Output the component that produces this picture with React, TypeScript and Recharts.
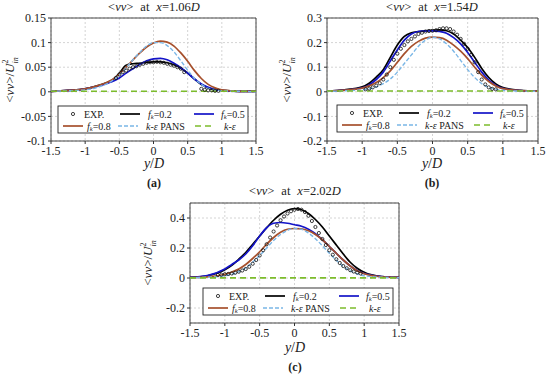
import React from "react";
import { LineChart, Line, XAxis, YAxis, CartesianGrid, ReferenceArea } from "recharts";

const X_TICKS = [-1.5, -1, -0.5, 0, 0.5, 1, 1.5];

// y/D positions of the simulation curves
const MODEL_Y = [-1.5, -1.25, -1, -0.9, -0.8, -0.7, -0.6, -0.5, -0.4, -0.3, -0.2, -0.1, 0, 0.1, 0.2, 0.3, 0.4, 0.5, 0.6, 0.7, 0.8, 0.9, 1, 1.25, 1.5];
const KE_Y = [-1.5, -1, -0.5, 0, 0.5, 1, 1.5];

// (a) x = 1.06D
const A_F02 = [0.001, 0.003, 0.006, 0.009, 0.013, 0.018, 0.024, 0.038, 0.054, 0.057, 0.058, 0.06, 0.061, 0.061, 0.059, 0.055, 0.048, 0.038, 0.026, 0.015, 0.008, 0.004, 0.003, 0.001, 0.001];
const A_F05 = [0.001, 0.003, 0.006, 0.009, 0.012, 0.016, 0.021, 0.028, 0.038, 0.047, 0.056, 0.063, 0.067, 0.068, 0.065, 0.058, 0.049, 0.038, 0.026, 0.016, 0.009, 0.005, 0.003, 0.001, 0.001];
const A_F08 = [0.001, 0.003, 0.006, 0.009, 0.013, 0.018, 0.025, 0.036, 0.05, 0.065, 0.079, 0.091, 0.099, 0.103, 0.101, 0.093, 0.079, 0.062, 0.043, 0.027, 0.015, 0.008, 0.004, 0.001, 0.001];
const A_PANS = [0.001, 0.002, 0.004, 0.006, 0.01, 0.015, 0.023, 0.034, 0.049, 0.065, 0.08, 0.093, 0.1, 0.1, 0.094, 0.081, 0.063, 0.044, 0.027, 0.015, 0.007, 0.004, 0.002, 0.001, 0];
const A_KE = [0.001, 0.001, 0.001, 0.001, 0.001, 0.001, 0.001];
const A_EXP_Y = [-0.55, -0.5, -0.45, -0.4, -0.35, -0.3, -0.25, -0.2, -0.15, -0.1, -0.05, 0, 0.05, 0.1, 0.15, 0.2, 0.25, 0.3, 0.35, 0.4, 0.45, 0.7, 0.75, 0.8, 0.85, 0.9, 0.95];
const A_EXP = [0.028, 0.035, 0.04, 0.043, 0.047, 0.05, 0.052, 0.055, 0.057, 0.059, 0.06, 0.06, 0.061, 0.06, 0.059, 0.057, 0.055, 0.053, 0.05, 0.047, 0.04, 0.006, 0.004, 0.003, 0.003, 0.002, 0.002];

// (b) x = 1.54D
const B_F02 = [0.003, 0.008, 0.02, 0.035, 0.06, 0.09, 0.14, 0.19, 0.225, 0.24, 0.245, 0.248, 0.25, 0.252, 0.248, 0.235, 0.21, 0.18, 0.14, 0.095, 0.058, 0.032, 0.017, 0.006, 0.003];
const B_F05 = [0.003, 0.007, 0.016, 0.028, 0.05, 0.08, 0.125, 0.17, 0.21, 0.235, 0.245, 0.248, 0.248, 0.245, 0.238, 0.22, 0.195, 0.16, 0.12, 0.08, 0.047, 0.026, 0.014, 0.005, 0.003];
const B_F08 = [0.003, 0.007, 0.015, 0.024, 0.038, 0.058, 0.085, 0.12, 0.155, 0.185, 0.205, 0.218, 0.222, 0.22, 0.21, 0.19, 0.165, 0.135, 0.1, 0.068, 0.042, 0.024, 0.013, 0.005, 0.003];
const B_PANS = [0.002, 0.004, 0.008, 0.012, 0.02, 0.033, 0.052, 0.08, 0.115, 0.15, 0.185, 0.21, 0.222, 0.215, 0.195, 0.165, 0.128, 0.09, 0.058, 0.033, 0.018, 0.01, 0.006, 0.003, 0.002];
const B_KE = [0.003, 0.003, 0.003, 0.003, 0.003, 0.003, 0.003];
const B_EXP_Y = [-0.95, -0.9, -0.85, -0.8, -0.75, -0.7, -0.65, -0.6, -0.55, -0.5, -0.45, -0.4, -0.35, -0.3, -0.25, -0.2, -0.15, -0.1, -0.05, 0, 0.05, 0.1, 0.15, 0.2, 0.25, 0.3, 0.35, 0.4, 0.45, 0.5, 0.55, 0.6, 0.65, 0.7, 0.75, 0.8, 0.85, 0.9];
const B_EXP = [0.01, 0.013, 0.018, 0.025, 0.035, 0.05, 0.07, 0.1, 0.13, 0.155, 0.175, 0.19, 0.205, 0.215, 0.225, 0.235, 0.24, 0.245, 0.247, 0.248, 0.25, 0.255, 0.258, 0.258, 0.255, 0.245, 0.232, 0.215, 0.195, 0.175, 0.15, 0.12, 0.08, 0.05, 0.03, 0.018, 0.012, 0.01];

// (c) x = 2.02D
const C_F02 = [0.004, 0.015, 0.055, 0.085, 0.125, 0.17, 0.225, 0.28, 0.335, 0.385, 0.425, 0.452, 0.462, 0.455, 0.43, 0.39, 0.34, 0.28, 0.22, 0.16, 0.105, 0.065, 0.038, 0.01, 0.004];
const C_F05 = [0.004, 0.016, 0.06, 0.09, 0.12, 0.16, 0.215, 0.28, 0.335, 0.365, 0.37, 0.365, 0.355, 0.345, 0.325, 0.295, 0.255, 0.21, 0.165, 0.12, 0.08, 0.05, 0.03, 0.01, 0.004];
const C_F08 = [0.003, 0.008, 0.025, 0.04, 0.06, 0.09, 0.13, 0.175, 0.225, 0.27, 0.305, 0.325, 0.33, 0.328, 0.315, 0.29, 0.255, 0.21, 0.165, 0.12, 0.08, 0.048, 0.028, 0.008, 0.004];
const C_PANS = [0.002, 0.005, 0.015, 0.025, 0.042, 0.068, 0.105, 0.15, 0.2, 0.25, 0.29, 0.318, 0.33, 0.325, 0.3, 0.262, 0.215, 0.165, 0.118, 0.078, 0.047, 0.027, 0.015, 0.005, 0.002];
const C_KE = [0.001, 0.001, 0.001, 0.001, 0.001, 0.001, 0.001];
const C_EXP_Y = [-1.1, -1.05, -1, -0.95, -0.9, -0.85, -0.8, -0.75, -0.7, -0.65, -0.6, -0.55, -0.5, -0.45, -0.4, -0.35, -0.3, -0.25, -0.2, -0.15, -0.1, -0.05, 0, 0.05, 0.1, 0.15, 0.2, 0.25, 0.3, 0.35, 0.4, 0.45, 0.5, 0.55, 0.6, 0.65, 0.7, 0.75, 0.8, 0.85, 0.9, 0.95];
const C_EXP = [0.02, 0.022, 0.025, 0.027, 0.03, 0.035, 0.042, 0.05, 0.06, 0.075, 0.095, 0.12, 0.15, 0.185, 0.225, 0.27, 0.31, 0.35, 0.385, 0.41, 0.43, 0.445, 0.455, 0.46, 0.455, 0.44, 0.415, 0.38, 0.34, 0.3, 0.26, 0.22, 0.185, 0.155, 0.125, 0.1, 0.08, 0.065, 0.052, 0.043, 0.036, 0.03];

const FONT = "'Liberation Serif', 'DejaVu Serif', serif";
const C_BLACK = "#000000";
const C_BLUE = "#1414c8";
const C_BROWN = "#a6502c";
const C_LBLUE = "#7ab6e6";
const C_GREEN = "#7cbc2c";

const pts = (ys: number[], vs: number[]) => ys.map((y, i) => ({ y, v: vs[i] }));

type PanelProps = {
  left: number;
  top: number;
  width: number;
  height: number;
  margin: { top: number; right: number; bottom: number; left: number };
  domain: [number, number];
  ticks: number[];
  f02: number[];
  f05: number[];
  f08: number[];
  pans: number[];
  ke: number[];
  expY: number[];
  exp: number[];
};

function Panel(p: PanelProps) {
  const tick = { fontSize: 12, fill: "#222", fontFamily: FONT };
  return (
    <div style={{ position: "absolute", left: p.left, top: p.top }}>
      <LineChart width={p.width} height={p.height} margin={p.margin}>
        <CartesianGrid stroke="#d4d4d4" strokeDasharray="2 2" />
        <XAxis
          dataKey="y"
          type="number"
          domain={[-1.5, 1.5]}
          ticks={X_TICKS}
          tick={tick}
          tickSize={3}
          axisLine={false}
          tickLine={{ stroke: "#333" }}
          height={20}
          allowDuplicatedCategory={false}
        />
        <YAxis
          type="number"
          domain={p.domain}
          ticks={p.ticks}
          tick={tick}
          tickSize={3}
          axisLine={false}
          tickLine={{ stroke: "#333" }}
          width={40}
        />
        <Line data={pts(p.expY, p.exp)} dataKey="v" stroke="none" isAnimationActive={false}
          dot={{ r: 1.6, fill: "none", stroke: "#111", strokeWidth: 0.8 }} />
        <Line data={pts(MODEL_Y, p.f02)} dataKey="v" type="monotone" stroke={C_BLACK} strokeWidth={1.7} dot={false} isAnimationActive={false} />
        <Line data={pts(MODEL_Y, p.f05)} dataKey="v" type="monotone" stroke={C_BLUE} strokeWidth={1.7} dot={false} isAnimationActive={false} />
        <Line data={pts(MODEL_Y, p.f08)} dataKey="v" type="monotone" stroke={C_BROWN} strokeWidth={1.7} dot={false} isAnimationActive={false} />
        <Line data={pts(MODEL_Y, p.pans)} dataKey="v" type="monotone" stroke={C_LBLUE} strokeWidth={1.4} strokeDasharray="4 2" dot={false} isAnimationActive={false} />
        <Line data={pts(KE_Y, p.ke)} dataKey="v" type="monotone" stroke={C_GREEN} strokeWidth={1.6} strokeDasharray="6 4" dot={false} isAnimationActive={false} />
        <ReferenceArea x1={-1.5} x2={1.5} y1={p.domain[0]} y2={p.domain[1]} fill="none" stroke="#333" strokeWidth={0.9} />
      </LineChart>
    </div>
  );
}

function Title({ x, y, pos }: { x: number; y: number; pos: string }) {
  return (
    <text x={x} y={y} textAnchor="middle" fontSize={12.5}>
      {"<"}<tspan fontStyle="italic">vv</tspan>{">"}
      <tspan dx={7}>at</tspan>
      <tspan dx={7} fontStyle="italic">x</tspan>{"=" + pos}<tspan fontStyle="italic">D</tspan>
    </text>
  );
}

function YLabel({ x, y }: { x: number; y: number }) {
  return (
    <text transform={`translate(${x},${y}) rotate(-90)`} textAnchor="middle" fontSize={13}>
      {"<"}<tspan fontStyle="italic">vv</tspan>{">/"}<tspan fontStyle="italic">U</tspan>
      <tspan fontSize={8} dy={-6}>2</tspan>
      <tspan fontSize={8} fontStyle="italic" dx={-4} dy={10}>in</tspan>
    </text>
  );
}

function XLabel({ x, y, tag }: { x: number; y: number; tag: string }) {
  return (
    <g>
      <text x={x} y={y} textAnchor="middle" fontSize={14}>
        <tspan fontStyle="italic">y</tspan>/<tspan fontStyle="italic">D</tspan>
      </text>
      <text x={x} y={y + 19} textAnchor="middle" fontSize={12} fontWeight="bold">{tag}</text>
    </g>
  );
}

function Fk({ x, y, val }: { x: number; y: number; val: string }) {
  return (
    <text x={x} y={y} fontSize={10}>
      <tspan fontStyle="italic">f</tspan><tspan fontSize={6.5} fontStyle="italic" dy={1.5}>k</tspan>
      <tspan dy={-1.5}>{"=" + val}</tspan>
    </text>
  );
}

function LegendBox({ x, y }: { x: number; y: number }) {
  const r1 = y + 8;
  const r2 = y + 20;
  return (
    <g>
      <rect x={x} y={y} width={190} height={27} fill="#fff" stroke="#222" strokeWidth={0.9} />
      <circle cx={x + 15} cy={r1} r={1.6} fill="none" stroke="#111" strokeWidth={0.8} />
      <text x={x + 26} y={r1 + 3.5} fontSize={10}>EXP.</text>
      <line x1={x + 62} x2={x + 82} y1={r1} y2={r1} stroke={C_BLACK} strokeWidth={1.7} />
      <Fk x={x + 90} y={r1 + 3.5} val="0.2" />
      <line x1={x + 136} x2={x + 156} y1={r1} y2={r1} stroke={C_BLUE} strokeWidth={1.7} />
      <Fk x={x + 163} y={r1 + 3.5} val="0.5" />
      <line x1={x + 5} x2={x + 25} y1={r2} y2={r2} stroke={C_BROWN} strokeWidth={1.7} />
      <Fk x={x + 29} y={r2 + 3.5} val="0.8" />
      <line x1={x + 60} x2={x + 80} y1={r2} y2={r2} stroke={C_LBLUE} strokeWidth={1.4} strokeDasharray="4 2" />
      <text x={x + 88} y={r2 + 3.5} fontSize={10}>
        <tspan fontStyle="italic">k</tspan>-<tspan fontStyle="italic">ε</tspan> PANS
      </text>
      <line x1={x + 137} x2={x + 157} y1={r2} y2={r2} stroke={C_GREEN} strokeWidth={1.6} strokeDasharray="6 4" />
      <text x={x + 166} y={r2 + 3.5} fontSize={10}>
        <tspan fontStyle="italic">k</tspan>-<tspan fontStyle="italic">ε</tspan>
      </text>
    </g>
  );
}

export default function App() {
  return (
    <div style={{ position: "absolute", left: 0, top: 0, width: 550, height: 375, background: "#fff", fontFamily: FONT }}>
      <Panel left={0} top={0} width={270} height={190} margin={{ top: 18, right: 14, bottom: 29, left: 11 }}
        domain={[-0.1, 0.15]} ticks={[-0.1, -0.05, 0, 0.05, 0.1, 0.15]}
        f02={A_F02} f05={A_F05} f08={A_F08} pans={A_PANS} ke={A_KE} expY={A_EXP_Y} exp={A_EXP} />
      <Panel left={275} top={0} width={275} height={190} margin={{ top: 18, right: 12, bottom: 29, left: 12 }}
        domain={[-0.2, 0.3]} ticks={[-0.2, -0.1, 0, 0.1, 0.2, 0.3]}
        f02={B_F02} f05={B_F05} f08={B_F08} pans={B_PANS} ke={B_KE} expY={B_EXP_Y} exp={B_EXP} />
      <Panel left={140} top={185} width={275} height={190} margin={{ top: 18, right: 16, bottom: 32, left: 10 }}
        domain={[-0.3, 0.5]} ticks={[-0.2, 0, 0.2, 0.4]}
        f02={C_F02} f05={C_F05} f08={C_F08} pans={C_PANS} ke={C_KE} expY={C_EXP_Y} exp={C_EXP} />
      <svg width={550} height={375} style={{ position: "absolute", left: 0, top: 0, pointerEvents: "none" }}
        fontFamily={FONT} fill="#222">
        <Title x={154} y={11} pos="1.06" />
        <Title x={432} y={11} pos="1.54" />
        <Title x={295} y={195} pos="2.02" />
        <YLabel x={14} y={80} />
        <YLabel x={291} y={80} />
        <YLabel x={152} y={263} />
        <XLabel x={154} y={168} tag="(a)" />
        <XLabel x={432} y={168} tag="(b)" />
        <XLabel x={295} y={352} tag="(c)" />
        <LegendBox x={58} y={106} />
        <LegendBox x={337} y={105} />
        <LegendBox x={203} y={288} />
      </svg>
    </div>
  );
}
